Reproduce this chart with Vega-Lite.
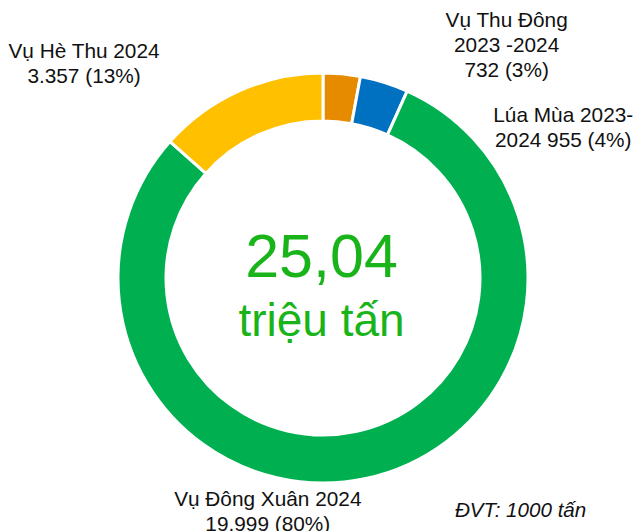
{
  "$schema": "https://vega.github.io/schema/vega-lite/v6.json",
  "autosize": {"type": "none"},
  "width": 624,
  "height": 506,
  "padding": {"left": 11, "top": 25, "right": 0, "bottom": 0},
  "background": "white",
  "config": {"view": {"stroke": null}, "font": "Liberation Sans"},
  "datasets": {
    "crops": [
      {"season": "Vụ Thu Đông 2023-2024", "value": 732, "order": 1, "label": "Vụ Thu Đông\n2023 -2024\n732 (3%)"},
      {"season": "Lúa Mùa 2023-2024", "value": 955, "order": 2, "label": "Lúa Mùa 2023-\n2024 955 (4%)"},
      {"season": "Vụ Đông Xuân 2024", "value": 19999, "order": 3, "label": "Vụ Đông Xuân 2024\n19.999 (80%)"},
      {"season": "Vụ Hè Thu 2024", "value": 3357, "order": 4, "label": "Vụ Hè Thu 2024\n3.357 (13%)"}
    ],
    "center": [{"total": "25,04", "unit": "triệu tấn", "note": "ĐVT: 1000 tấn"}]
  },
  "data": {"name": "crops"},
  "encoding": {
    "theta": {"field": "value", "type": "quantitative", "stack": true},
    "order": {"field": "order", "type": "quantitative"}
  },
  "layer": [
    {
      "mark": {"type": "arc", "outerRadius": 205, "innerRadius": 157, "stroke": "white", "strokeWidth": 3},
      "encoding": {
        "color": {
          "field": "season",
          "type": "nominal",
          "scale": {
            "domain": ["Vụ Thu Đông 2023-2024", "Lúa Mùa 2023-2024", "Vụ Đông Xuân 2024", "Vụ Hè Thu 2024"],
            "range": ["#E68A00", "#0070C0", "#00B050", "#FFC000"]
          },
          "legend": null
        }
      }
    },
    {
      "mark": {"type": "text", "radius": 225, "dx": 163, "dy": -27, "align": "center", "baseline": "alphabetic", "fontSize": 20.8, "lineHeight": 25, "lineBreak": "\n", "color": "#111111"},
      "encoding": {"text": {"condition": {"test": "datum.order === 1", "field": "label"}, "value": ""}}
    },
    {
      "mark": {"type": "text", "radius": 225, "dx": 173, "dy": 59, "align": "center", "baseline": "alphabetic", "fontSize": 20.8, "lineHeight": 25, "lineBreak": "\n", "color": "#111111"},
      "encoding": {"text": {"condition": {"test": "datum.order === 2", "field": "label"}, "value": ""}}
    },
    {
      "mark": {"type": "text", "radius": 225, "dx": -102, "dy": 8, "align": "center", "baseline": "alphabetic", "fontSize": 20.8, "lineHeight": 25, "lineBreak": "\n", "color": "#111111"},
      "encoding": {"text": {"condition": {"test": "datum.order === 3", "field": "label"}, "value": ""}}
    },
    {
      "mark": {"type": "text", "radius": 225, "dx": -147, "dy": -15, "align": "center", "baseline": "alphabetic", "fontSize": 20.8, "lineHeight": 25, "lineBreak": "\n", "color": "#111111"},
      "encoding": {"text": {"condition": {"test": "datum.order === 4", "field": "label"}, "value": ""}}
    },
    {
      "data": {"name": "center"},
      "mark": {"type": "text", "align": "center", "baseline": "alphabetic", "fontSize": 61, "dx": -1.5, "dy": -1, "color": "#19B419"},
      "encoding": {"text": {"field": "total"}, "theta": null, "order": null}
    },
    {
      "data": {"name": "center"},
      "mark": {"type": "text", "align": "center", "baseline": "alphabetic", "fontSize": 46, "dx": -1.5, "dy": 58, "color": "#19B419"},
      "encoding": {"text": {"field": "unit"}, "theta": null, "order": null}
    },
    {
      "data": {"name": "center"},
      "mark": {"type": "text", "align": "left", "baseline": "alphabetic", "fontSize": 20.6, "fontStyle": "italic", "dx": 132, "dy": 239, "color": "#111111"},
      "encoding": {"text": {"field": "note"}, "theta": null, "order": null}
    }
  ]
}
